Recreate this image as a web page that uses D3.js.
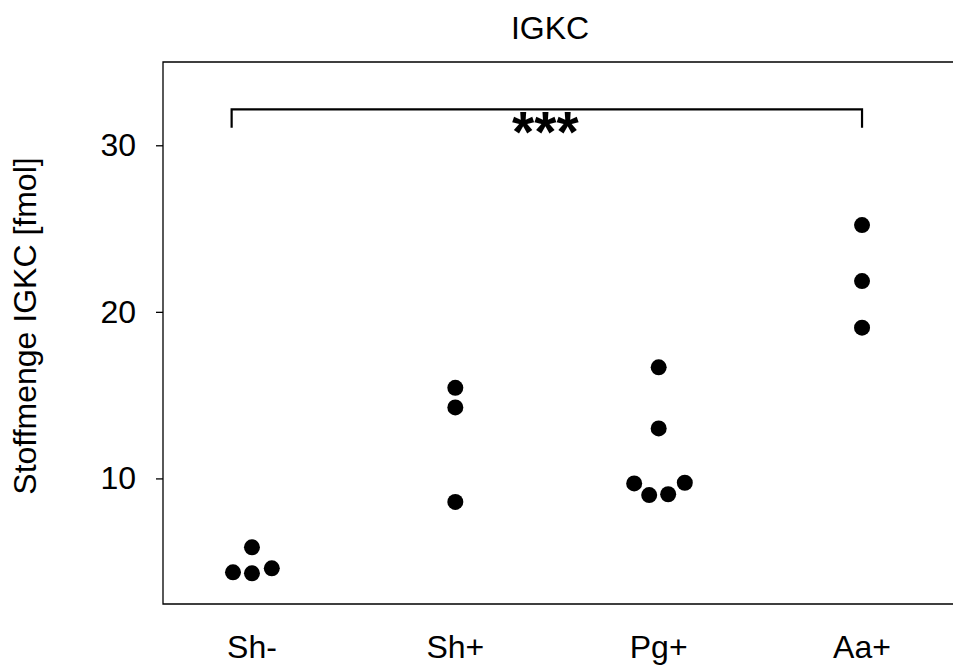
<!DOCTYPE html>
<html>
<head>
<meta charset="utf-8">
<script src="https://cdn.jsdelivr.net/npm/d3@7"></script>
<style>
  html, body { margin: 0; padding: 0; background: #fff; }
  svg { display: block; }
  text { font-family: "Liberation Sans", Arial, sans-serif; fill: #000; }
</style>
</head>
<body>
<svg id="chart" width="953" height="665"></svg>
<script>
// Groups and measured amounts (fmol)
const groups = ["Sh-", "Sh+", "Pg+", "Aa+"];
const valuesShMinus = [4.30, 4.36, 4.60, 5.86];
const valuesShPlus = [8.59, 14.26, 15.44];
const valuesPgPlus = [9.00, 9.05, 9.70, 9.74, 13.00, 16.67];
const valuesAaPlus = [19.05, 21.85, 25.21];
const seriesValues = [valuesShMinus, valuesShPlus, valuesPgPlus, valuesAaPlus];
const yTicks = [10, 20, 30];
const chartTitle = "IGKC";
const yTitle = "Stoffmenge IGKC [fmol]";
// Bracket spans from group position 0.9 (left edge of Sh- swarm) to Aa+ (4)
const significance = { from: 0.9, to: 4, label: "***", level: 32.16 };

const W = 953, H = 665;
const FS = "32px";
const svg = d3.select("#chart");

const x = d3.scaleLinear().domain([0.5625, 4.4375]).range([163, 951]);
const y = d3.scaleLinear().domain([2.46, 35]).range([604, 62]);
const xOf = g => x(groups.indexOf(g) + 1);

const R = 8;      // dot radius
const D = 19;     // minimum centre distance between dots in a swarm

// Title
svg.append("text")
  .attr("x", 550).attr("y", 39)
  .attr("text-anchor", "middle")
  .style("font-size", FS)
  .text(chartTitle);

// Frame: left, top and bottom edges
const x0 = x.range()[0];
svg.append("path")
  .attr("d", `M${W + 5},${y(35)}H${x0}V${y(2.46)}H${W + 5}`)
  .attr("fill", "none").attr("stroke", "#000").attr("stroke-width", 1.3);

// Y axis ticks and labels
const yAxis = d3.axisLeft(y).tickValues(yTicks).tickSize(7).tickPadding(20);
const gy = svg.append("g").attr("transform", `translate(${x0},0)`).call(yAxis);
gy.select(".domain").remove();
gy.selectAll(".tick line").attr("stroke", "#000").attr("stroke-width", 1.3);
gy.selectAll(".tick text")
  .style("font-size", FS)
  .style("font-family", "'Liberation Sans', Arial, sans-serif")
  .attr("fill", "#000");

// Y axis title
svg.append("text")
  .attr("transform", "translate(36,326) rotate(-90)")
  .attr("text-anchor", "middle")
  .style("font-size", FS)
  .text(yTitle);

// X category labels
svg.append("g").selectAll("text")
  .data(groups).join("text")
  .attr("x", g => xOf(g)).attr("y", 658)
  .attr("text-anchor", "middle")
  .style("font-size", FS)
  .text(g => g);

// Swarm layout: points that overlap vertically share a row and are
// spread outward from the centre, lowest values nearest the middle.
function swarm(values) {
  const pts = values.map(v => ({ v, py: y(v), dx: 0 })).sort((a, b) => a.v - b.v);
  const rows = [];
  pts.forEach(p => {
    const row = rows[rows.length - 1];
    if (row && Math.abs(p.py - row[0].py) < D) row.push(p);
    else rows.push([p]);
  });
  rows.forEach(row => {
    const n = row.length;
    let left, right, start;
    const gap = (a, b) => Math.sqrt(Math.max(D * D - (a.py - b.py) ** 2, 0));
    if (n % 2 === 1) {
      row[0].dx = 0; left = right = row[0]; start = 1;
    } else {
      const g = gap(row[0], row[1]);
      row[0].dx = -g / 2; row[1].dx = g / 2;
      left = row[0]; right = row[1]; start = 2;
    }
    for (let i = start; i < n; i++) {
      const p = row[i];
      if ((i - start) % 2 === 0) { p.dx = left.dx - gap(p, left); left = p; }
      else { p.dx = right.dx + gap(p, right) + 1.5; right = p; }
    }
  });
  return pts;
}

const dots = [];
groups.forEach((g, i) => {
  swarm(seriesValues[i]).forEach(p => dots.push({ g, v: p.v, dx: p.dx }));
});

svg.append("g").selectAll("circle")
  .data(dots).join("circle")
  .attr("cx", d => xOf(d.g) + d.dx)
  .attr("cy", d => y(d.v))
  .attr("r", R)
  .attr("fill", "#000");

// Significance bracket
const bx1 = x(significance.from), bx2 = x(significance.to);
const by = y(significance.level);
svg.append("path")
  .attr("d", `M${bx1},${by + 18.5}V${by}H${bx2}V${by + 18.5}`)
  .attr("fill", "none").attr("stroke", "#000").attr("stroke-width", 2.2);
svg.append("text")
  .attr("x", (bx1 + bx2) / 2 - 1.5).attr("y", by + 43)
  .attr("text-anchor", "middle")
  .style("font-size", "57px")
  .style("font-weight", "bold")
  .text(significance.label);
</script>
</body>
</html>
